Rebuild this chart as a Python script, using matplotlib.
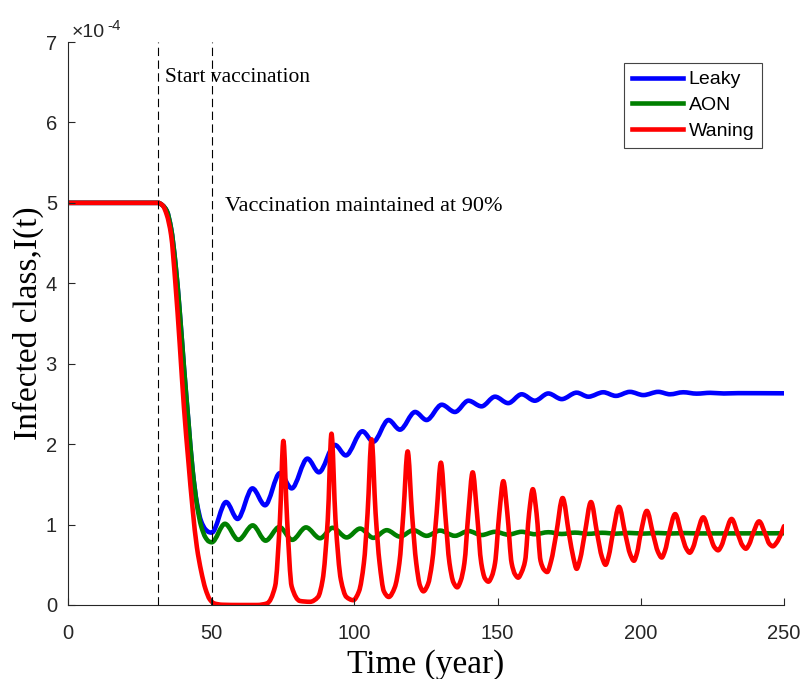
import numpy as np
import matplotlib
matplotlib.use("Agg")
import matplotlib.pyplot as plt
from matplotlib.path import Path
from matplotlib.patches import PathPatch
from matplotlib.lines import Line2D

# ---------------- data (I(t) in units of 1e-4) ----------------
t_leaky = [0, 31.5, 33, 34.5, 36, 37.5, 39, 40.5, 42, 43.5, 45, 46.5, 48, 49.3, 50.2,
           55.2, 59.2, 64.4, 68.8, 74.0, 78.1, 83.6, 87.6, 93.2, 97.0,
           102.8, 106.6, 111.9, 115.9, 121.2, 125.2, 130.5, 135.1, 139.8, 144.4,
           149.1, 153.7, 158.4, 163.0, 167.7, 172.4, 177.6, 181.7, 186.9, 191.3,
           196.2, 200.9, 206.1, 210.2, 214.8, 219.5, 224.3, 229.0, 234.0, 250.0]
leaky = [5.0, 5.0, 4.97, 4.9, 4.68, 4.25, 3.65, 2.95, 2.3, 1.68, 1.27, 1.04, 0.94, 0.905, 0.9,
         1.28, 1.07, 1.45, 1.24, 1.64, 1.45, 1.82, 1.65, 1.99, 1.86,
         2.16, 2.03, 2.30, 2.18, 2.40, 2.30, 2.49, 2.40, 2.54, 2.47,
         2.59, 2.51, 2.62, 2.54, 2.63, 2.56, 2.64, 2.59, 2.645, 2.60,
         2.65, 2.61, 2.65, 2.62, 2.645, 2.628, 2.638, 2.63, 2.634, 2.632]

t_aon = [0, 31.5, 33, 34.5, 36, 37.5, 39, 40.5, 42, 43.5, 45, 46.5, 48, 49.2, 50.2,
         54.8, 59.5, 64.5, 69.0, 73.8, 78.3, 83.1, 88.0, 92.4, 97.3,
         102.0, 106.6, 111.3, 115.9, 120.6, 125.2, 129.9, 135.1, 139.8, 144.4,
         149.1, 153.7, 158.4, 163.0, 167.7, 172.4, 177.0, 181.7, 186.5, 191.3,
         196.0, 201.0, 206.0, 210.5, 215.0, 220.0, 250.0]
aon = [5.0, 5.0, 4.97, 4.9, 4.68, 4.25, 3.65, 2.95, 2.3, 1.68, 1.25, 0.98, 0.84, 0.79, 0.78,
       1.01, 0.81, 0.99, 0.80, 0.97, 0.81, 0.965, 0.83, 0.96, 0.84,
       0.95, 0.835, 0.93, 0.85, 0.93, 0.86, 0.925, 0.86, 0.92, 0.87,
       0.91, 0.875, 0.91, 0.88, 0.905, 0.883, 0.90, 0.885, 0.898, 0.887,
       0.896, 0.888, 0.895, 0.889, 0.894, 0.89, 0.892]

t_waning = [0, 31.5, 33, 34.5, 36, 37.5, 39, 40.5, 42, 43.5, 45, 46.5, 48, 49.5, 51, 54, 60, 66,
            69.5, 72.3, 74.0, 75.2, 76.5, 78.1, 81.0, 84.5,
            87.3, 88.9, 90.7, 92.0, 93.4, 95.3, 97.2, 99.6,
            101.6, 103.3, 104.6, 106.0, 107.4, 108.8, 110.3, 112.0,
            114.1, 115.7, 117.1, 118.6, 120.1, 121.6, 122.9, 124.1,
            125.7, 127.1, 128.7, 130.2, 131.7, 133.2, 134.6, 135.9,
            137.1, 138.4, 139.8, 141.3, 142.8, 144.3, 145.6, 146.8,
            148.0, 149.1, 150.6, 152.0, 153.4, 154.9, 156.1, 157.2,
            158.4, 159.6, 161.0, 162.3, 163.6, 165.0, 166.2, 167.3,
            168.7, 170.4, 172.7, 175.0, 176.5, 177.6,
            178.8, 180.4, 182.6, 184.8, 186.4, 187.7,
            188.8, 190.2, 192.4, 194.6, 196.3, 197.6,
            198.7, 199.9, 202.1, 204.3, 206.0, 207.3,
            208.5, 209.8, 212.0, 214.2, 215.9, 217.1,
            218.3, 219.6, 221.8, 224.0, 225.7, 227.0,
            228.2, 229.5, 231.7, 233.9, 235.5, 236.7,
            237.9, 239.1, 241.3, 243.5, 244.9, 246.1,
            247.5, 248.8, 250.0]
waning = [5.0, 5.0, 4.97, 4.85, 4.6, 4.0, 3.25, 2.45, 1.8, 1.2, 0.72, 0.42, 0.2, 0.07, 0.02, 0.003, 0.0, 0.0,
          0.02, 0.23, 1.06, 2.04, 1.06, 0.23, 0.05, 0.04,
          0.10, 0.31, 1.06, 2.13, 1.06, 0.31, 0.10, 0.06,
          0.17, 0.52, 1.14, 2.06, 1.14, 0.52, 0.17, 0.10,
          0.22, 0.52, 1.14, 1.91, 1.14, 0.52, 0.24, 0.17,
          0.26, 0.52, 1.14, 1.77, 1.14, 0.52, 0.28, 0.22,
          0.30, 0.52, 1.14, 1.65, 1.14, 0.52, 0.33, 0.29,
          0.36, 0.52, 1.14, 1.54, 1.14, 0.52, 0.38, 0.34,
          0.41, 0.55, 1.14, 1.44, 1.14, 0.55, 0.44, 0.41,
          0.55, 0.87, 1.33, 0.87, 0.58, 0.45,
          0.57, 0.88, 1.28, 0.88, 0.60, 0.50,
          0.61, 0.88, 1.22, 0.88, 0.63, 0.55,
          0.65, 0.88, 1.17, 0.88, 0.66, 0.59,
          0.68, 0.88, 1.13, 0.88, 0.70, 0.65,
          0.72, 0.88, 1.09, 0.88, 0.72, 0.68,
          0.74, 0.88, 1.07, 0.88, 0.74, 0.70,
          0.76, 0.88, 1.04, 0.88, 0.76, 0.73,
          0.78, 0.87, 0.98]

vacc_start = 31.4
vacc_maintained = 50.3
series_names = ["Leaky", "AON", "Waning"]
series_colors = ["#0000ff", "#007f00", "#ff0000"]
x_ticks = [0, 50, 100, 150, 200, 250]
y_ticks = [0, 1, 2, 3, 4, 5, 6, 7]


def smooth_path(x, y):
    """Smooth (shape preserving) Bezier path through the data points."""
    x = np.asarray(x, float)
    y = np.asarray(y, float)
    h = np.diff(x)
    d = np.diff(y) / h
    n = len(x)
    m = np.zeros(n)
    m[-1] = d[-1]
    for i in range(1, n - 1):
        if d[i - 1] * d[i] <= 0:
            m[i] = 0.0
        else:
            w1 = 2 * h[i] + h[i - 1]
            w2 = h[i] + 2 * h[i - 1]
            m[i] = (w1 + w2) / (w1 / d[i - 1] + w2 / d[i])
    verts = [(x[0], y[0])]
    codes = [Path.MOVETO]
    for i in range(n - 1):
        verts += [(x[i] + h[i] / 3, y[i] + m[i] * h[i] / 3),
                  (x[i + 1] - h[i] / 3, y[i + 1] - m[i + 1] * h[i] / 3),
                  (x[i + 1], y[i + 1])]
        codes += [Path.CURVE4] * 3
    return Path(verts, codes)


W, H = 804, 679
fig = plt.figure(figsize=(W / 100, H / 100), dpi=100)
ax = fig.add_axes([68 / W, 1 - 605 / H, 716 / W, 563 / H])

axis_col = "#262626"
lw = 3.3
for (tx, vy), c in zip([(t_leaky, leaky), (t_aon, aon), (t_waning, waning)], series_colors):
    ax.add_patch(PathPatch(smooth_path(tx, vy), fill=False, edgecolor=c, lw=lw,
                           capstyle="round", joinstyle="round"))

for xv in (vacc_start, vacc_maintained):
    ax.axvline(xv, color="k", lw=0.8, ls=(0, (7.5, 4)))

ax.set_xlim(0, 250)
ax.set_ylim(0, 7)
ax.set_xticks(x_ticks)
ax.set_yticks(y_ticks)
ax.spines["top"].set_visible(False)
ax.spines["right"].set_visible(False)
for s in ("left", "bottom"):
    ax.spines[s].set_color(axis_col)
    ax.spines[s].set_linewidth(0.8)
ax.tick_params(direction="in", length=5, width=0.8, colors=axis_col, labelsize=14.5)
ax.tick_params(axis="x", pad=14)
ax.tick_params(axis="y", pad=8)
for lab in ax.get_xticklabels() + ax.get_yticklabels():
    lab.set_family("Liberation Sans")

ax.set_xlabel("Time (year)", fontsize=24, family="Liberation Serif", color="k")
ax.xaxis.set_label_coords(0.5, -0.079)
ax.set_ylabel("Infected class,I(t)", fontsize=24, family="Liberation Serif", color="k")
ax.yaxis.set_label_coords(-0.034, 0.5)

ax.text(0.0056, 1.0089, "\u00d710", transform=ax.transAxes, ha="left", va="baseline",
        fontsize=14, family="Liberation Sans", color=axis_col)
ax.text(0.0545, 1.021, "-4", transform=ax.transAxes, ha="left", va="baseline",
        fontsize=11, family="Liberation Sans", color=axis_col)

ax.text(33.9, 6.56, "Start vaccination", ha="left", va="center",
        fontsize=15.5, family="Liberation Serif")
ax.text(54.8, 4.96, "Vaccination maintained at 90%", ha="left", va="center",
        fontsize=16, family="Liberation Serif")

handles = [Line2D([], [], color=c, lw=lw) for c in series_colors]
leg = ax.legend(handles, series_names, loc="upper right", bbox_to_anchor=(0.9693, 0.9627),
                borderaxespad=0, fancybox=False, framealpha=1, edgecolor="#444444",
                prop={"family": "Liberation Sans", "size": 14}, handlelength=2.6,
                handletextpad=0.3, labelspacing=0.42, borderpad=0.4)
leg.get_frame().set_linewidth(0.8)

fig.savefig("out.png", dpi=100)
